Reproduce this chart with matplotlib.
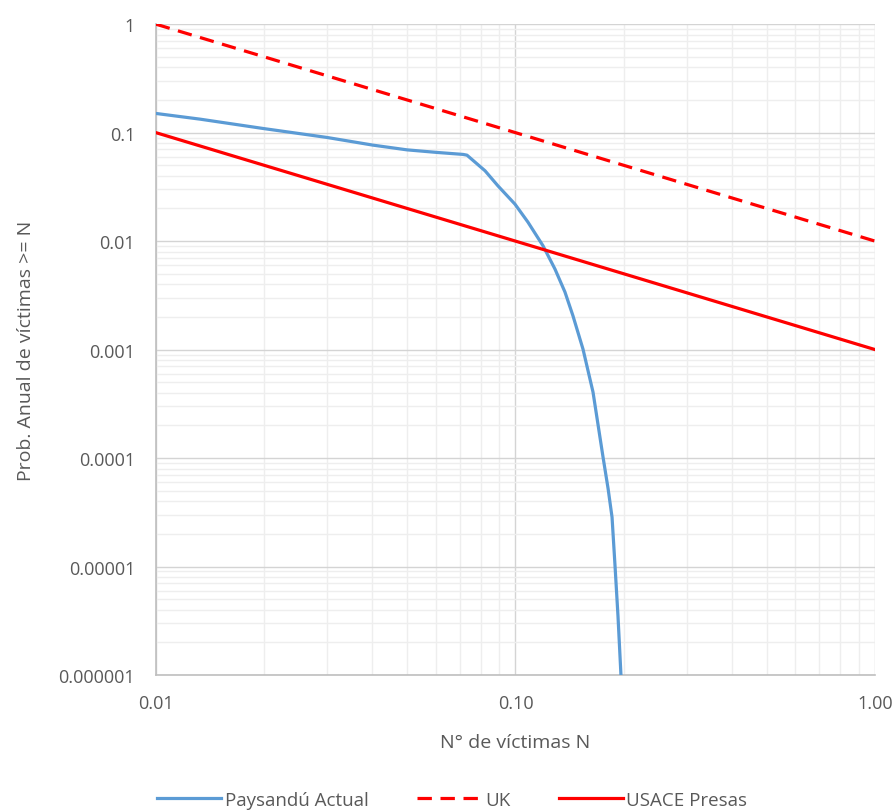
import matplotlib.pyplot as plt
from matplotlib.ticker import FixedLocator, FixedFormatter, LogLocator, NullFormatter

# F-N curves: annual probability of N or more victims
n_paysandu = [0.0100, 0.01326, 0.01984, 0.0299, 0.04015, 0.04991, 0.06047, 0.07145,
              0.0733, 0.0823, 0.0894, 0.0997, 0.1083, 0.1193, 0.1288, 0.1373,
              0.1445, 0.1541, 0.1643, 0.1752, 0.1810, 0.1856, 0.1892, 0.1928, 0.1965]
p_paysandu = [0.1503, 0.1332, 0.1093, 0.0903, 0.0767, 0.0694, 0.0657, 0.0630,
              0.0620, 0.0445, 0.0323, 0.0219, 0.01497, 0.00905, 0.00552, 0.00339,
              0.00205, 0.00101, 0.000406, 0.000102, 0.000052, 0.0000285, 0.0000101,
              0.0000035, 0.000001]

n_uk = [0.01, 1.0]
p_uk = [1.0, 0.01]

n_usace = [0.01, 1.0]
p_usace = [0.1, 0.001]

x_ticks = [0.01, 0.1, 1.0]
x_labels = ['0.01', '0.10', '1.00']
y_ticks = [1e-6, 1e-5, 1e-4, 1e-3, 1e-2, 1e-1, 1]
y_labels = ['0.000001', '0.00001', '0.0001', '0.001', '0.01', '0.1', '1']

plt.rcParams['font.family'] = ['Open Sans', 'DejaVu Sans']
txt = '#595959'

fig = plt.figure(figsize=(8.96, 8.12), dpi=100)
ax = fig.add_axes([0.174, 0.1675, 0.8026, 0.8015])

ax.plot(n_paysandu, p_paysandu, color='#5B9BD5', lw=2.3, label='Paysandú Actual', zorder=3)
ax.plot(n_uk, p_uk, color='#FF0000', lw=2.3, ls=(0, (4.5, 2.7)), label='UK', zorder=3)
ax.plot(n_usace, p_usace, color='#FF0000', lw=2.3, label='USACE Presas', zorder=3)

ax.set_xscale('log')
ax.set_yscale('log')
ax.set_xlim(0.01, 1.0)
ax.set_ylim(1e-6, 1)

ax.xaxis.set_major_locator(FixedLocator(x_ticks))
ax.xaxis.set_major_formatter(FixedFormatter(x_labels))
ax.yaxis.set_major_locator(FixedLocator(y_ticks))
ax.yaxis.set_major_formatter(FixedFormatter(y_labels))
ax.xaxis.set_minor_locator(LogLocator(base=10, subs=range(2, 10)))
ax.yaxis.set_minor_locator(LogLocator(base=10, subs=range(2, 10), numticks=20))
ax.xaxis.set_minor_formatter(NullFormatter())
ax.yaxis.set_minor_formatter(NullFormatter())

ax.grid(True, which='major', color='#d4d4d4', lw=1.0, zorder=0)
ax.grid(True, which='minor', color='#eeeeee', lw=1.0, zorder=0)
ax.set_axisbelow(True)

for side in ['top', 'right']:
    ax.spines[side].set_visible(False)
for side in ['left', 'bottom']:
    ax.spines[side].set_color('#bfbfbf')
    ax.spines[side].set_linewidth(1.2)

ax.tick_params(which='both', length=0, labelsize=13, colors=txt)
ax.tick_params(axis='x', pad=14)
ax.tick_params(axis='y', pad=15)

ax.set_xlabel('N° de víctimas N', fontsize=14, color=txt, labelpad=15)
ax.set_ylabel('Prob. Anual de víctimas >= N', fontsize=14, color=txt, labelpad=17)

fig.legend(loc='center', bbox_to_anchor=(0.505, 0.014), ncol=3, frameon=False,
           fontsize=13.5, labelcolor=txt, handlelength=3.4, columnspacing=2.6,
           handletextpad=0.2)

fig.savefig('out.png', dpi=100)
